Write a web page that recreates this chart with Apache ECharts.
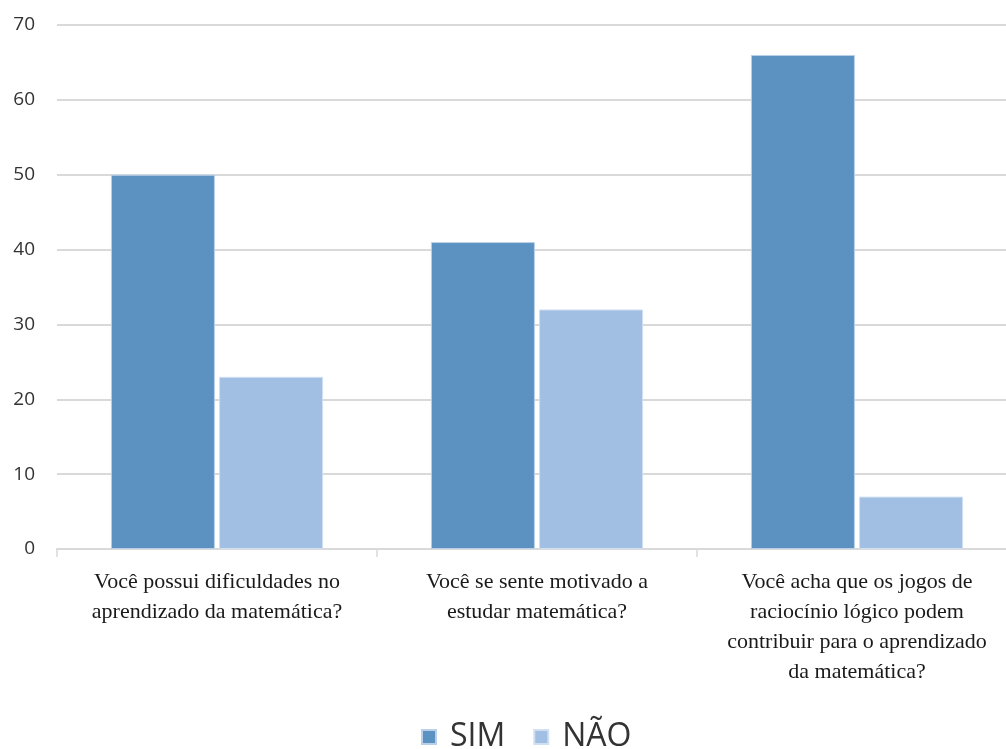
<!DOCTYPE html>
<html>
<head>
<meta charset="utf-8">
<script src="https://cdn.jsdelivr.net/npm/echarts@6/dist/echarts.min.js"></script>
<style>
  html, body { margin: 0; padding: 0; background: #ffffff; }
  #chart { width: 1006px; height: 749px; }
</style>
</head>
<body>
<div id="chart"></div>
<script>
// Survey answers (73 students per question)
const categories = [
  'Você possui dificuldades no\naprendizado da matemática?',
  'Você se sente motivado a\nestudar matemática?',
  'Você acha que os jogos de\nraciocínio lógico podem\ncontribuir para o aprendizado\nda matemática?'
];
const simValues = [50, 41, 66];
const naoValues = [23, 32, 7];
const seriesNames = ['SIM', 'NÃO'];
const yTicks = { min: 0, max: 70, interval: 10 };

const chart = echarts.init(document.getElementById('chart'), null, { renderer: 'canvas' });

const gridColor = '#d9d9d9';

chart.setOption({
  animation: false,
  backgroundColor: '#ffffff',
  // the plot runs past the right edge of the canvas, so the last column is cut
  grid: { left: 57, width: 960, top: 25, bottom: 200, containLabel: false, outerBoundsMode: 'none' },
  legend: {
    top: 716,
    left: 416,
    itemWidth: 14,
    itemHeight: 14,
    itemGap: 28,
    icon: 'rect',
    textStyle: { fontFamily: 'Open Sans', fontSize: 32, color: '#333333', padding: [0, 0, 0, 9] },
    data: seriesNames
  },
  xAxis: {
    type: 'category',
    data: categories,
    axisLine: { lineStyle: { color: gridColor, width: 2 } },
    axisTick: { show: true, length: 8, lineStyle: { color: gridColor, width: 1.5 } },
    axisLabel: {
      interval: 0,
      margin: 18,
      fontFamily: 'Liberation Serif',
      fontSize: 22,
      lineHeight: 30,
      color: '#1a1a1a'
    }
  },
  yAxis: {
    type: 'value',
    min: yTicks.min,
    max: yTicks.max,
    interval: yTicks.interval,
    axisLine: { show: false },
    axisTick: { show: false },
    splitLine: { lineStyle: { color: gridColor, width: 2 } },
    axisLabel: {
      margin: 22,
      fontFamily: 'Open Sans',
      fontSize: 19,
      color: '#333333'
    }
  },
  series: [
    {
      name: seriesNames[0],
      type: 'bar',
      data: simValues,
      barWidth: 104,
      barGap: '4%',
      itemStyle: { color: '#5b92c2', borderColor: '#b9d0e8', borderWidth: 1 }
    },
    {
      name: seriesNames[1],
      type: 'bar',
      data: naoValues,
      barWidth: 104,
      barGap: '4%',
      itemStyle: { color: '#a0bfe2', borderColor: '#d0e0f2', borderWidth: 1 }
    }
  ]
});
</script>
</body>
</html>
